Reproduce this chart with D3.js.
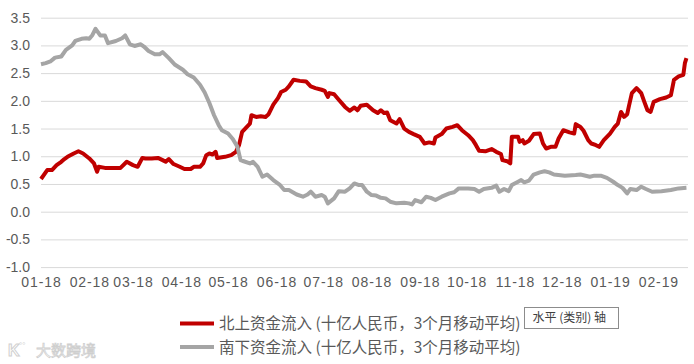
<!DOCTYPE html>
<html>
<head>
<meta charset="utf-8">
<script src="https://cdn.jsdelivr.net/npm/d3@7"></script>
<style>
  html, body { margin: 0; padding: 0; background: #fff; }
  svg { display: block; }
  .tick text { fill: #595959; font-family: "Liberation Sans", Arial, sans-serif; font-size: 14px; }
  .grid line { stroke: #d9d9d9; stroke-width: 1; }
  .legend-text { fill: #595959; font-family: "Noto Sans CJK SC", sans-serif; font-size: 15.5px; }
</style>
</head>
<body>
<svg id="chart" width="694" height="364"></svg>
<script>
// ---- data ----
const northDates = [
  "2018-01-01","2018-01-05","2018-01-08","2018-01-11","2018-01-14","2018-01-16","2018-01-18","2018-01-22","2018-01-25","2018-01-28",
  "2018-02-01","2018-02-04","2018-02-06","2018-02-07","2018-02-11","2018-02-21","2018-02-25","2018-03-01","2018-03-04","2018-03-07",
  "2018-03-09","2018-03-13","2018-03-17","2018-03-20","2018-03-22","2018-03-24","2018-03-27","2018-03-31","2018-04-03","2018-04-07",
  "2018-04-09","2018-04-13","2018-04-15","2018-04-17","2018-04-19","2018-04-21","2018-04-23","2018-04-24","2018-04-29","2018-05-03",
  "2018-05-06","2018-05-08","2018-05-10","2018-05-12","2018-05-15","2018-05-16","2018-05-19","2018-05-22","2018-05-25","2018-05-27",
  "2018-05-30","2018-06-02","2018-06-04","2018-06-07","2018-06-09","2018-06-12","2018-06-16","2018-06-20","2018-06-23","2018-06-26",
  "2018-06-30","2018-07-02","2018-07-04","2018-07-05","2018-07-08","2018-07-11","2018-07-15","2018-07-18","2018-07-21","2018-07-23",
  "2018-07-25","2018-07-29","2018-08-02","2018-08-05","2018-08-07","2018-08-09","2018-08-11","2018-08-13","2018-08-17","2018-08-19",
  "2018-08-22","2018-08-25","2018-08-28","2018-09-01","2018-09-04","2018-09-07","2018-09-10","2018-09-11","2018-09-15","2018-09-18",
  "2018-09-22","2018-09-25","2018-09-28","2018-10-02","2018-10-05","2018-10-07","2018-10-09","2018-10-13","2018-10-17","2018-10-20",
  "2018-10-23","2018-10-24","2018-10-27","2018-10-29","2018-10-30","2018-11-03","2018-11-04","2018-11-06","2018-11-07","2018-11-10",
  "2018-11-13","2018-11-17","2018-11-19","2018-11-21","2018-11-24","2018-11-27","2018-11-29","2018-12-02","2018-12-06","2018-12-09",
  "2018-12-10","2018-12-13","2018-12-15","2018-12-18","2018-12-20","2018-12-23","2018-12-25","2018-12-28","2019-01-01","2019-01-04",
  "2019-01-06","2019-01-08","2019-01-10","2019-01-12","2019-01-13","2019-01-15","2019-01-18","2019-01-21","2019-01-23","2019-01-25",
  "2019-01-27","2019-01-29","2019-02-02","2019-02-06","2019-02-09","2019-02-11","2019-02-14","2019-02-17","2019-02-18","2019-02-19"
];
const northValues = [
  0.59,0.75,0.75,0.84,0.90,0.95,0.99,1.05,1.09,1.05,
  0.96,0.87,0.72,0.81,0.79,0.79,0.90,0.84,0.81,0.97,
  0.96,0.96,0.97,0.93,0.90,0.95,0.86,0.81,0.77,0.77,
  0.81,0.81,0.87,1.02,1.05,1.03,1.08,0.97,0.99,1.02,
  1.08,1.20,1.44,1.50,1.59,1.74,1.71,1.72,1.71,1.76,
  1.93,2.05,2.16,2.20,2.26,2.38,2.36,2.35,2.26,2.23,
  2.20,2.18,2.07,2.14,2.12,2.02,1.89,1.82,1.88,1.83,
  1.91,1.93,1.83,1.78,1.83,1.78,1.79,1.65,1.59,1.67,
  1.50,1.44,1.40,1.35,1.23,1.25,1.23,1.34,1.40,1.50,
  1.53,1.56,1.47,1.38,1.29,1.20,1.10,1.09,1.13,1.08,
  1.04,0.93,0.91,0.87,1.35,1.35,1.26,1.29,1.23,1.28,
  1.40,1.41,1.23,1.14,1.17,1.17,1.32,1.47,1.43,1.41,
  1.58,1.53,1.46,1.29,1.23,1.20,1.17,1.29,1.41,1.53,
  1.59,1.80,1.71,1.76,1.89,2.14,2.23,2.14,1.98,1.83,
  1.80,1.98,2.03,2.06,2.10,2.38,2.44,2.47,2.68,2.77
];

const southDates = [
  "2018-01-01","2018-01-04","2018-01-07","2018-01-10","2018-01-14","2018-01-17","2018-01-21","2018-01-23","2018-01-27","2018-01-30",
  "2018-02-01","2018-02-03","2018-02-05","2018-02-08","2018-02-11","2018-02-13","2018-02-18","2018-02-22","2018-02-24","2018-02-27",
  "2018-03-02","2018-03-06","2018-03-08","2018-03-11","2018-03-15","2018-03-18","2018-03-20","2018-03-24","2018-03-28","2018-04-02",
  "2018-04-05","2018-04-09","2018-04-13","2018-04-16","2018-04-19","2018-04-22","2018-04-25","2018-04-27","2018-05-01","2018-05-04",
  "2018-05-07","2018-05-09","2018-05-11","2018-05-15","2018-05-17","2018-05-20","2018-05-23","2018-05-26","2018-05-30","2018-06-03",
  "2018-06-06","2018-06-09","2018-06-14","2018-06-18","2018-06-21","2018-06-23","2018-06-26","2018-06-30","2018-07-02","2018-07-04",
  "2018-07-08","2018-07-11","2018-07-15","2018-07-18","2018-07-21","2018-07-24","2018-07-26","2018-07-29","2018-08-01","2018-08-04",
  "2018-08-07","2018-08-10","2018-08-13","2018-08-17","2018-08-22","2018-08-25","2018-08-27","2018-08-29","2018-09-02","2018-09-05",
  "2018-09-08","2018-09-11","2018-09-15","2018-09-20","2018-09-23","2018-09-26","2018-10-02","2018-10-06","2018-10-09","2018-10-12",
  "2018-10-17","2018-10-20","2018-10-22","2018-10-25","2018-10-28","2018-10-30","2018-11-03","2018-11-05","2018-11-07","2018-11-10",
  "2018-11-13","2018-11-17","2018-11-20","2018-11-23","2018-11-26","2018-12-03","2018-12-10","2018-12-13","2018-12-19","2018-12-22",
  "2018-12-26","2018-12-30","2019-01-03","2019-01-06","2019-01-09","2019-01-12","2019-01-14","2019-01-18","2019-01-21","2019-01-24",
  "2019-01-28","2019-02-03","2019-02-09","2019-02-14","2019-02-19"
];
const southValues = [
  2.66,2.68,2.71,2.78,2.80,2.92,3.00,3.08,3.12,3.13,
  3.12,3.19,3.30,3.18,3.18,3.04,3.08,3.13,3.18,3.02,
  2.99,3.02,2.98,2.90,2.84,2.84,2.88,2.77,2.65,2.56,
  2.48,2.42,2.29,2.15,1.96,1.74,1.56,1.47,1.41,1.31,
  1.17,0.93,0.91,0.87,0.90,0.81,0.63,0.67,0.57,0.49,
  0.39,0.39,0.31,0.27,0.31,0.36,0.27,0.30,0.27,0.15,
  0.24,0.37,0.36,0.42,0.51,0.48,0.48,0.36,0.30,0.29,
  0.25,0.24,0.18,0.15,0.16,0.15,0.13,0.21,0.17,0.27,
  0.25,0.21,0.27,0.33,0.35,0.42,0.42,0.41,0.36,0.41,
  0.43,0.47,0.36,0.41,0.37,0.48,0.54,0.57,0.53,0.56,
  0.67,0.71,0.73,0.71,0.67,0.65,0.66,0.67,0.63,0.65,
  0.65,0.61,0.54,0.48,0.43,0.33,0.41,0.39,0.45,0.41,
  0.36,0.37,0.39,0.42,0.43
];

const yTicks = [-1.0, -0.5, 0.0, 0.5, 1.0, 1.5, 2.0, 2.5, 3.0, 3.5];
const seriesNames = ["北上资金流入 (十亿人民币，3个月移动平均)", "南下资金流入 (十亿人民币，3个月移动平均)"];
const seriesColors = ["#C00000", "#A5A5A5"];

// ---- layout ----
const svg = d3.select("#chart");
const parse = d3.timeParse("%Y-%m-%d");
const plotLeft = 41, plotRight = 688, plotTop = 17.7, plotBottom = 267.1;

const x = d3.scaleTime()
  .domain([parse("2018-01-01"), parse("2019-02-20")])
  .range([plotLeft, plotRight]);
const y = d3.scaleLinear().domain([-1, 3.5]).range([plotBottom, plotTop]);

// gridlines + y labels
const yAxis = d3.axisLeft(y).tickValues(yTicks)
  .tickFormat(d => d.toFixed(1))
  .tickSize(-(plotRight - plotLeft)).tickPadding(11);
svg.append("g").attr("class", "grid")
  .attr("transform", `translate(${plotLeft},0)`)
  .call(yAxis)
  .call(g => g.select(".domain").remove());

// x labels at month starts
const months = d3.timeMonth.range(parse("2018-01-01"), parse("2019-03-01"));
const xAxis = d3.axisBottom(x).tickValues(months)
  .tickFormat(d3.timeFormat("%m-%y")).tickSize(0).tickPadding(10);
svg.append("g")
  .attr("transform", `translate(0,${plotBottom})`)
  .call(xAxis)
  .call(g => g.select(".domain").remove())
  .call(g => g.selectAll("text").attr("letter-spacing", "0.9px"));

// lines
const line = d3.line().x(d => x(d.date)).y(d => y(d.value));
const north = northDates.map((d, i) => ({ date: parse(d), value: northValues[i] }));
const south = southDates.map((d, i) => ({ date: parse(d), value: southValues[i] }));

[north, south].forEach((data, i) => {
  svg.append("path").datum(data)
    .attr("fill", "none")
    .attr("stroke", seriesColors[i])
    .attr("stroke-width", 4)
    .attr("stroke-linejoin", "round")
    .attr("d", line);
});

// legend
seriesNames.forEach((name, i) => {
  const ly = 323.5 + i * 23.5;
  svg.append("line")
    .attr("x1", 180).attr("x2", 214).attr("y1", ly).attr("y2", ly)
    .attr("stroke", seriesColors[i]).attr("stroke-width", 4);
  svg.append("text").attr("class", "legend-text")
    .attr("x", 219).attr("y", ly + 5.5)
    .text(name);
});

// hover tooltip box
const tip = svg.append("g").attr("transform", "translate(524.5,307.5)");
tip.append("rect").attr("width", 94).attr("height", 21)
  .attr("fill", "#fff").attr("stroke", "#8c8c8c");
tip.append("text").attr("x", 8).attr("y", 14.5)
  .style("font-family", "'Noto Sans CJK SC', sans-serif")
  .style("font-size", "12px").style("fill", "#404040")
  .text("水平 (类别) 轴");

// watermark
const wm = svg.append("g").attr("transform", "translate(8,356)");
wm.append("text").attr("x", 0).attr("y", 0)
  .style("font-family", "'Liberation Sans', sans-serif").style("font-size", "16px")
  .style("font-weight", "bold")
  .attr("fill", "#fff").attr("stroke", "#d0d0d0").attr("stroke-width", 1)
  .text("K");
wm.append("text").attr("x", 11).attr("y", -8)
  .style("font-size", "8px").attr("fill", "#d0d0d0").text("°°");
wm.append("text").attr("x", 28).attr("y", 0)
  .style("font-family", "'Noto Sans CJK SC', sans-serif").style("font-size", "15px")
  .attr("fill", "#fff").attr("stroke", "#cfcfcf").attr("stroke-width", 0.8)
  .text("大数跨境");
</script>
</body>
</html>
